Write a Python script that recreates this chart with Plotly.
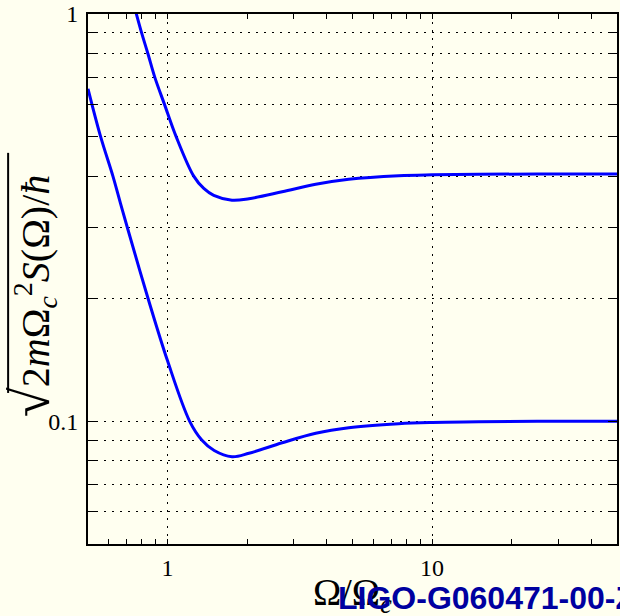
import numpy as np
import plotly.graph_objects as go

# Frequency axis (Omega / Omega_c) and noise spectra for the two curves
upper_freq = [0.72, 0.762, 0.797, 0.842, 0.894, 0.973, 1.077, 1.255, 1.37, 1.494,
              1.751, 2.03, 2.71, 3.63, 4.84, 7.47, 10, 15, 25, 50]
upper_noise = [1.15, 1.0, 0.9, 0.8, 0.7, 0.6, 0.5, 0.4, 0.373, 0.3587,
               0.349, 0.352, 0.366, 0.382, 0.393, 0.401, 0.403, 0.404, 0.405, 0.405]

lower_freq = [0.5, 0.558, 0.621, 0.663, 0.7033, 0.844, 1.0, 1.212, 1.346, 1.5,
              1.751, 2.03, 2.71, 3.63, 4.84, 7.47, 10, 15, 25, 50]
lower_noise = [0.655, 0.5, 0.4, 0.3435, 0.3, 0.2, 0.1406, 0.1, 0.09, 0.0848,
               0.0819, 0.0835, 0.0886, 0.0935, 0.0965, 0.0987, 0.0994, 0.0998, 0.1, 0.1]

x_tickvals = [1, 10]
x_ticktext = ["1", "10"]
y_tickvals = [0.1, 1]
y_ticktext = ["0.1", "1"]

BG = "#FFFFF0"
SERIF = "Liberation Serif, DejaVu Serif, serif"
DOTS = "2px,6px"

fig = go.Figure()
for xs, ys in [(upper_freq, upper_noise), (lower_freq, lower_noise)]:
    fig.add_trace(go.Scatter(
        x=xs, y=ys, mode="lines",
        line=dict(color="#0000FF", width=3, shape="spline", smoothing=1.0),
        showlegend=False, hoverinfo="skip",
    ))

axis_common = dict(
    type="log",
    showline=True, linecolor="black", linewidth=2, mirror="ticks",
    showgrid=True, gridcolor="black", gridwidth=1, griddash=DOTS,
    ticks="inside", tickcolor="black", tickwidth=1,
    zeroline=False,
    tickfont=dict(family=SERIF, size=24, color="black"),
)

fig.update_xaxes(
    **axis_common,
    range=[np.log10(0.5), np.log10(50)],
    tickvals=x_tickvals, ticktext=x_ticktext, ticklen=5,
    ticklabelstandoff=1,
    minor=dict(dtick="D1", ticks="inside", ticklen=5, tickcolor="black",
               showgrid=False),
)
fig.update_yaxes(
    **axis_common,
    range=[np.log10(0.05), 0],
    tickvals=y_tickvals, ticktext=y_ticktext, ticklen=9,
    ticklabelstandoff=3,
    minor=dict(dtick="D1", ticks="inside", ticklen=9, tickcolor="black",
               showgrid=True, gridcolor="black", gridwidth=1, griddash=DOTS),
)

# Y-axis title: enlarged radical sign with a drawn vinculum
fig.add_annotation(
    xref="paper", yref="paper", x=-0.105, y=0.469,
    xanchor="center", yanchor="middle", textangle=-90, showarrow=False,
    text="<span style='font-size:54px'>√</span>2<i>m</i>Ω<sub><i>c</i></sub>"
         "<sup>2</sup><i>S</i>(Ω)/<i>ħ</i>",
    font=dict(family=SERIF, size=40, color="black"),
)
fig.add_shape(
    type="line", xref="paper", yref="paper",
    x0=-0.151, x1=-0.151, y0=0.285, y1=0.738,
    line=dict(color="black", width=2),
)

fig.add_annotation(
    xref="paper", yref="paper", x=0.5, y=-0.096,
    xanchor="center", yanchor="middle", showarrow=False,
    text="Ω/Ω<sub><i>c</i></sub>",
    font=dict(family=SERIF, size=38, color="black"),
)
# Document number stamp
fig.add_annotation(
    xref="paper", yref="paper", x=0.469, y=-0.101,
    xanchor="left", yanchor="middle", showarrow=False,
    text="<b>LIGO-G060471-00-Z</b>",
    font=dict(family="Liberation Sans, Arial, sans-serif", size=32, color="#0000A0"),
)

fig.update_layout(
    width=620, height=616,
    margin=dict(l=88, r=1, t=14, b=72),
    paper_bgcolor=BG, plot_bgcolor=BG,
)

fig.write_html("out.html")
